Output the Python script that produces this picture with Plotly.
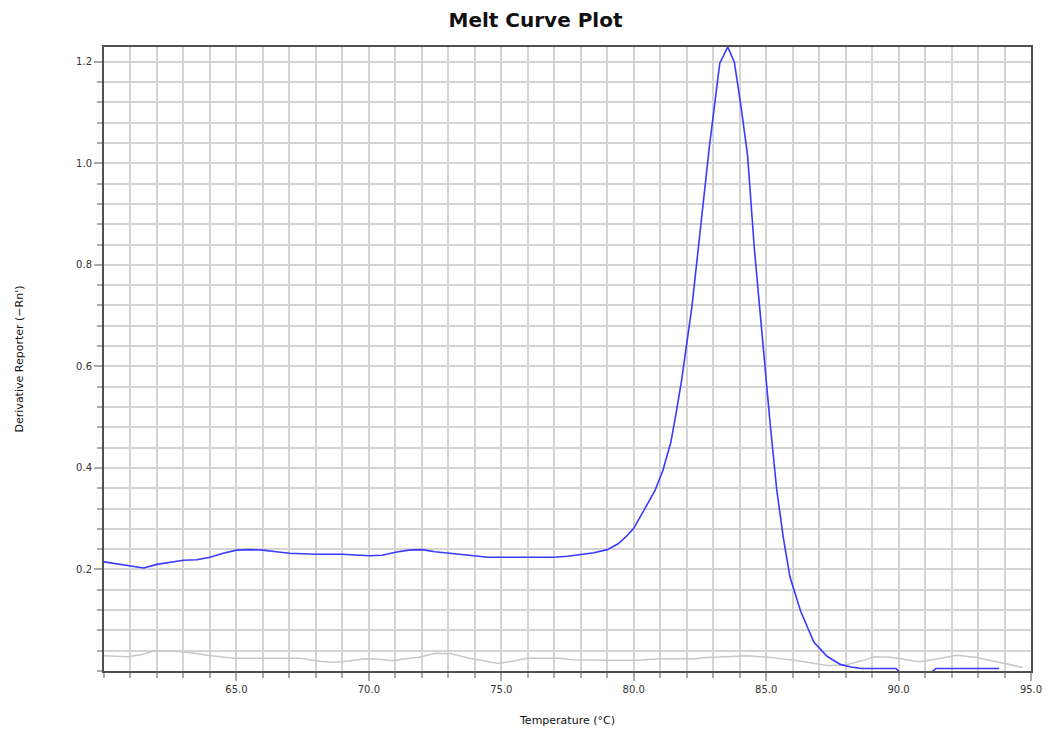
import plotly.graph_objects as go

# Blue sample curve
blue_temp = [60.0, 60.5, 61.0, 61.5, 62.0, 62.5, 63.0, 63.5, 64.0, 64.5, 65.0, 65.5, 66.0, 66.5,
             67.0, 67.5, 68.0, 69.0, 69.5, 70.0, 70.5, 71.0, 71.5, 72.0, 72.5, 73.0, 73.5, 74.0,
             74.5, 75.0, 76.0, 77.0, 77.5, 78.0, 78.5, 79.0, 79.4, 79.7, 80.0, 80.4, 80.8, 81.1,
             81.4, 81.6, 81.8, 82.2, 82.55, 82.85, 83.25, 83.55, 83.8, 84.05, 84.3, 84.55, 84.8,
             85.0, 85.15, 85.4, 85.65, 85.9, 86.3, 86.8, 87.3, 87.8, 88.2, 88.6, 89.9, 90.1,
             91.2, 91.4, 93.8]
blue_deriv = [0.215, 0.211, 0.206, 0.203, 0.210, 0.214, 0.218, 0.219, 0.224, 0.232, 0.238, 0.239,
              0.238, 0.235, 0.232, 0.231, 0.230, 0.230, 0.229, 0.227, 0.228, 0.234, 0.238, 0.239,
              0.235, 0.232, 0.230, 0.226, 0.224, 0.224, 0.224, 0.224, 0.226, 0.229, 0.233, 0.239,
              0.250, 0.264, 0.281, 0.318, 0.355, 0.395, 0.450, 0.508, 0.570, 0.718, 0.882, 1.030,
              1.197, 1.229, 1.199, 1.112, 1.015, 0.835, 0.690, 0.565, 0.488, 0.357, 0.262, 0.185,
              0.118, 0.057, 0.029, 0.013, 0.008, 0.005, 0.005, -0.005, -0.005, 0.005, 0.005]

# Grey (negative control) curve
grey_temp = [60.0, 60.9, 61.4, 61.9, 62.7, 63.3, 63.9, 64.9, 66.0, 67.4, 68.0, 68.5, 69.0, 69.9,
             70.4, 70.9, 71.5, 71.9, 72.5, 73.1, 73.8, 74.9, 75.5, 76.0, 77.2, 77.7, 78.9, 80.2,
             80.9, 82.3, 82.6, 83.7, 84.3, 85.1, 86.2, 87.3, 88.0, 88.6, 89.1, 89.7, 90.8, 91.5,
             92.2, 92.9, 93.9, 94.7]
grey_deriv = [0.030, 0.028, 0.032, 0.040, 0.039, 0.036, 0.031, 0.025, 0.025, 0.025, 0.020, 0.017,
              0.018, 0.024, 0.023, 0.020, 0.025, 0.027, 0.035, 0.034, 0.025, 0.015, 0.020, 0.025,
              0.025, 0.022, 0.021, 0.021, 0.024, 0.024, 0.026, 0.028, 0.030, 0.027, 0.020, 0.011,
              0.012, 0.020, 0.028, 0.027, 0.018, 0.024, 0.031, 0.027, 0.016, 0.007]

x_tick_vals = [65, 70, 75, 80, 85, 90, 95]
x_tick_text = ["65.0", "70.0", "75.0", "80.0", "85.0", "90.0", "95.0"]
y_tick_vals = [0.2, 0.4, 0.6, 0.8, 1.0, 1.2]
y_tick_text = ["0.2", "0.4", "0.6", "0.8", "1.0", "1.2"]

FONT = "DejaVu Sans"
GRID = "#d4d4d4"
FRAME = "#505050"

fig = go.Figure()
fig.add_trace(go.Scatter(x=grey_temp, y=grey_deriv, mode="lines",
                         line=dict(color="#c8c8c8", width=1.5), showlegend=False))
fig.add_trace(go.Scatter(x=blue_temp, y=blue_deriv, mode="lines",
                         line=dict(color="#3a3aff", width=1.6), showlegend=False))

fig.update_layout(
    width=1050, height=733,
    margin=dict(l=104, r=19, t=47, b=62),
    paper_bgcolor="white", plot_bgcolor="white",
    title=dict(text="<b>Melt Curve Plot</b>", x=0.51, xanchor="center", y=0.973, yanchor="middle",
               font=dict(family=FONT, size=20, color="#111111")),
    font=dict(family=FONT, size=10, color="#333333"),
)

fig.update_xaxes(
    range=[60, 95], tickmode="array", tickvals=x_tick_vals, ticktext=x_tick_text,
    ticks="outside", ticklen=8, tickcolor="#aaaaaa", tickwidth=1.5,
    showgrid=True, gridcolor=GRID, gridwidth=1.5,
    minor=dict(tickmode="linear", tick0=60, dtick=1, ticks="outside", ticklen=5,
               tickcolor="#aaaaaa", tickwidth=1.5, showgrid=True, gridcolor=GRID, gridwidth=1.5),
    showline=True, linecolor=FRAME, linewidth=2, mirror=True, zeroline=False, automargin=False,
    title=dict(text="Temperature (°C)", standoff=22, font=dict(family=FONT, size=11, color="#111111")),
    tickfont=dict(family=FONT, size=10, color="#333333"),
)
fig.update_yaxes(
    range=[0, 1.229], tickmode="array", tickvals=y_tick_vals, ticktext=y_tick_text,
    ticks="outside", ticklen=8, tickcolor="#aaaaaa", tickwidth=1.5,
    showgrid=True, gridcolor=GRID, gridwidth=1.5,
    minor=dict(tickmode="linear", tick0=0, dtick=0.04, ticks="outside", ticklen=5,
               tickcolor="#aaaaaa", tickwidth=1.5, showgrid=True, gridcolor=GRID, gridwidth=1.5),
    showline=True, linecolor=FRAME, linewidth=2, mirror=True, zeroline=False, automargin=False,
    title=dict(text="Derivative Reporter (−Rn')", standoff=50, font=dict(family=FONT, size=11, color="#111111")),
    tickfont=dict(family=FONT, size=10, color="#333333"),
)

fig.write_html("out.html")
